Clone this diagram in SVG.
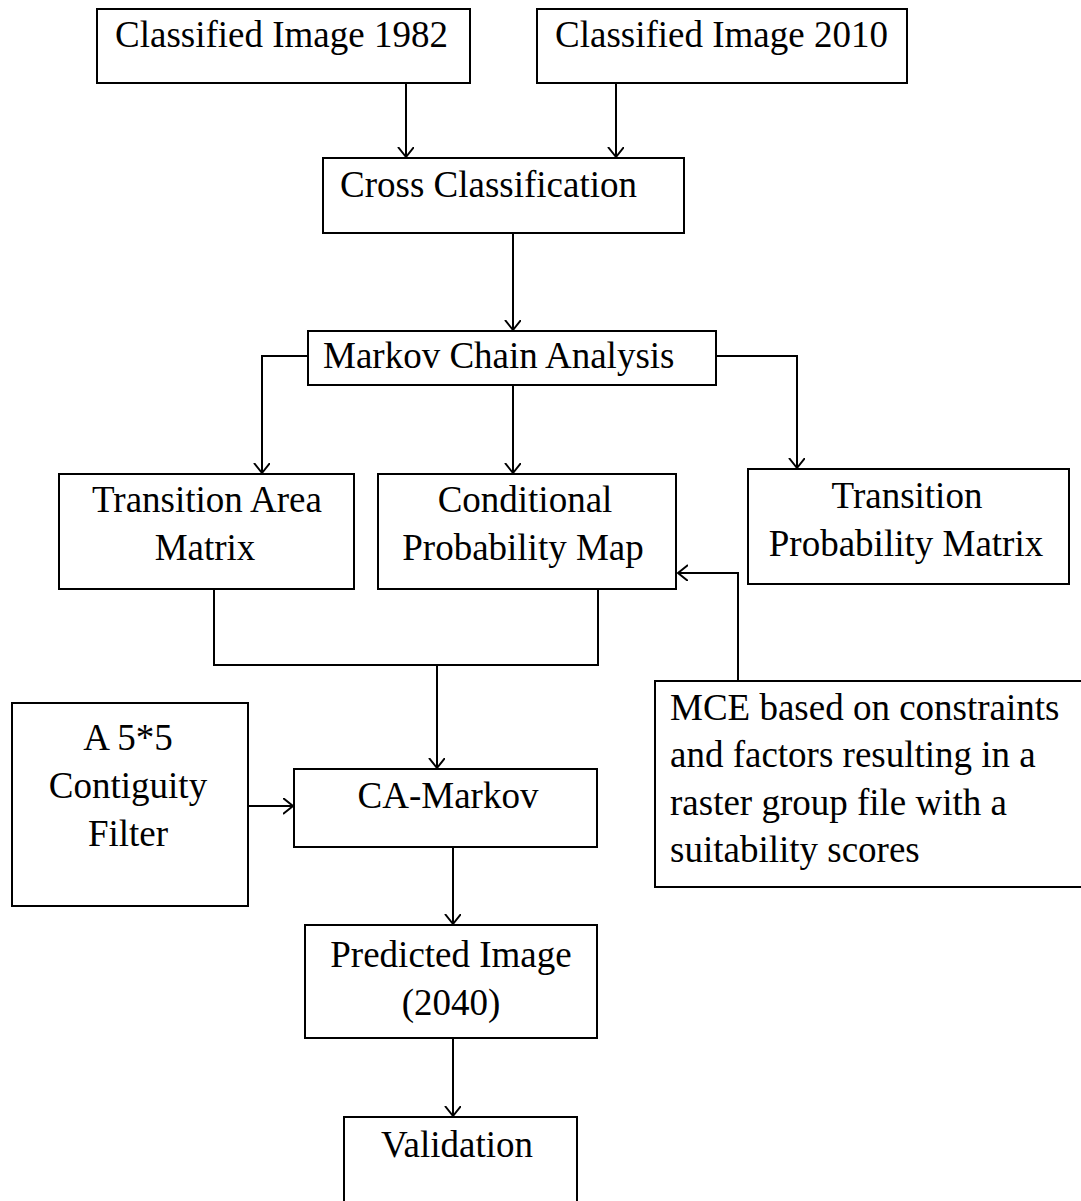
<svg xmlns="http://www.w3.org/2000/svg" width="1081" height="1201" viewBox="0 0 1081 1201">
<defs>
<marker id="ah" markerWidth="20" markerHeight="20" refX="10" refY="8" orient="auto" markerUnits="userSpaceOnUse" viewBox="0 0 20 20">
<polyline points="0,0 10,8 0,16" fill="none" stroke="#000" stroke-width="2"/>
</marker>
<style>
.box{fill:#fff;stroke:#000;stroke-width:2}
.t{font-family:"Liberation Serif","Times New Roman",serif;font-size:37px;fill:#000}
.c{text-anchor:middle}
.ln{fill:none;stroke:#000;stroke-width:2}
.ar{fill:none;stroke:#000;stroke-width:2;marker-end:url(#ah)}
</style>
</defs>
<rect width="1081" height="1201" fill="#fff"/>
<g id="connectors">
<line class="ar" x1="406" y1="83" x2="406" y2="157"/>
<line class="ar" x1="616" y1="83" x2="616" y2="157"/>
<line class="ar" x1="513" y1="233" x2="513" y2="330"/>
<polyline class="ar" points="308,356 262,356 262,473"/>
<line class="ar" x1="513" y1="385" x2="513" y2="473"/>
<polyline class="ar" points="716,356 797,356 797,468"/>
<polyline class="ln" points="214,589 214,665 598,665 598,589"/>
<line class="ar" x1="437" y1="665" x2="437" y2="768"/>
<polyline class="ar" points="738,681 738,573 678,573"/>
<line class="ar" x1="248" y1="806" x2="293" y2="806"/>
<line class="ar" x1="453" y1="847" x2="453" y2="924"/>
<line class="ar" x1="453" y1="1038" x2="453" y2="1116"/>
</g>
<g id="n1982"><rect class="box" x="97" y="9" width="373" height="74"/><text class="t" x="115" y="47">Classified Image 1982</text></g>
<g id="n2010"><rect class="box" x="537" y="9" width="370" height="74"/><text class="t" x="555" y="47">Classified Image 2010</text></g>
<g id="cross"><rect class="box" x="323" y="158" width="361" height="75"/><text class="t" x="340" y="197">Cross Classification</text></g>
<g id="markov"><rect class="box" x="308" y="331" width="408" height="54"/><text class="t" x="323" y="368">Markov Chain Analysis</text></g>
<g id="tam"><rect class="box" x="59" y="474" width="295" height="115"/><text class="t c" x="207" y="512">Transition Area</text><text class="t c" x="205" y="560">Matrix</text></g>
<g id="cpm"><rect class="box" x="378" y="474" width="298" height="115"/><text class="t c" x="525" y="512">Conditional</text><text class="t c" x="523" y="560">Probability Map</text></g>
<g id="tpm"><rect class="box" x="748" y="469" width="321" height="115"/><text class="t c" x="907" y="508">Transition</text><text class="t c" x="906" y="556">Probability Matrix</text></g>
<g id="mce"><rect class="box" x="655" y="681" width="430" height="206"/><text class="t" x="670" y="720">MCE based on constraints</text><text class="t" x="670" y="767">and factors resulting in a</text><text class="t" x="670" y="815">raster group file with a</text><text class="t" x="670" y="862">suitability scores</text></g>
<g id="filter"><rect class="box" x="12" y="703" width="236" height="203"/><text class="t c" x="128" y="750">A 5*5</text><text class="t c" x="128" y="798">Contiguity</text><text class="t c" x="128" y="846">Filter</text></g>
<g id="camarkov"><rect class="box" x="294" y="769" width="303" height="78"/><text class="t c" x="448" y="808">CA-Markov</text></g>
<g id="predicted"><rect class="box" x="305" y="925" width="292" height="113"/><text class="t c" x="451" y="967">Predicted Image</text><text class="t c" x="451" y="1015">(2040)</text></g>
<g id="validation"><rect class="box" x="344" y="1117" width="233" height="100"/><text class="t c" x="457" y="1157">Validation</text></g>
</svg>
